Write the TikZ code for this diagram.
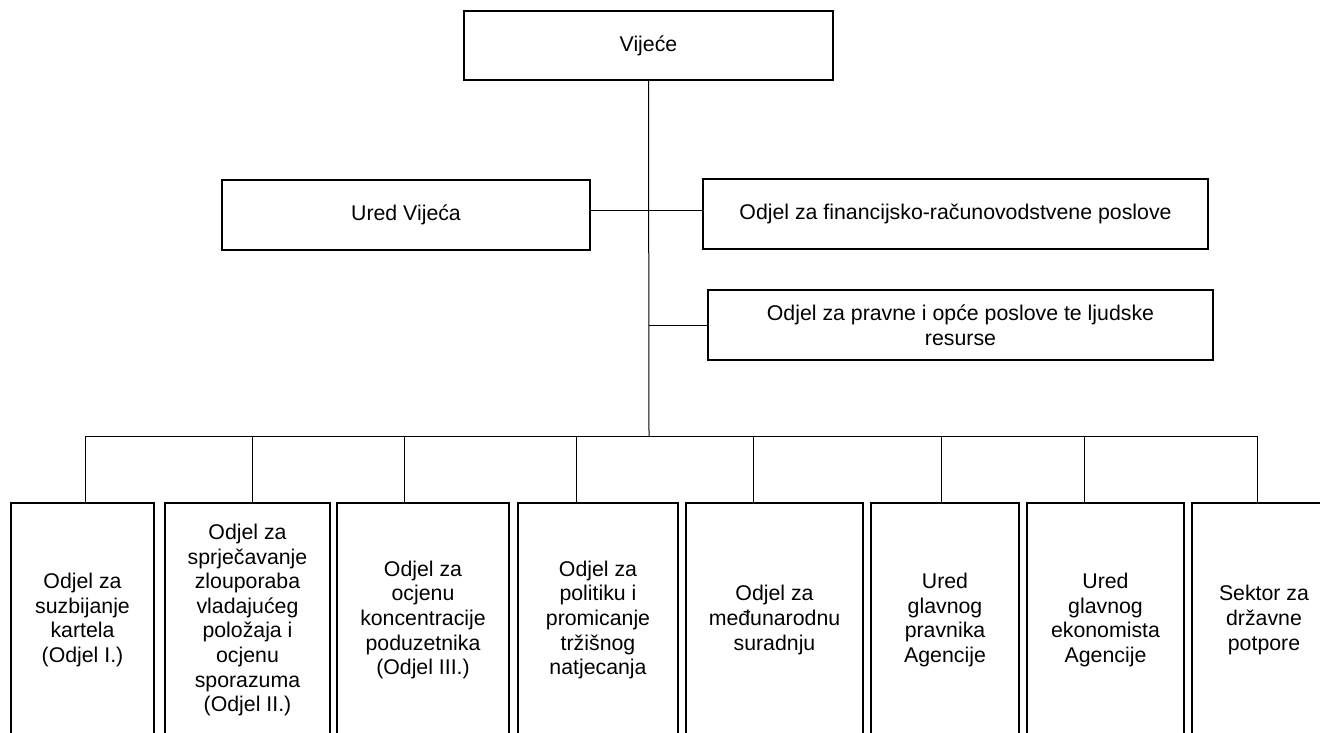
\documentclass[tikz,border=0pt]{standalone}
\usepackage{fontspec}
\setmainfont{Liberation Sans}

\tikzset{
    unit/.style={draw, line width=1.2pt, align=center, inner sep=0pt,
        font=\fontsize{21.3}{24.6}\selectfont},
    link/.style={line width=1pt}
}

\begin{document}
\begin{tikzpicture}[x=1pt, y=-1pt]
    \clip (0,0) rectangle (1320,733);

    % Top of the chart
    \node[unit, minimum width=369, minimum height=69] (vijece) at (648.5,45.5) {Vijeće};
    \node[unit, minimum width=368, minimum height=70] (ured) at (406,215) {Ured Vijeća};
    \node[unit, minimum width=505, minimum height=70] (fin) at (955.5,214) {Odjel za financijsko-računovodstvene poslove};
    \node[unit, minimum width=505, minimum height=70] (pravne) at (960.5,325) {Odjel za pravne i opće poslove te ljudske\\resurse};

    % Departments along the bottom
    \node[unit, minimum width=143, minimum height=234] (k1) at (82.5,620) {Odjel za\\suzbijanje\\kartela\\(Odjel I.)};
    \node[unit, minimum width=165, minimum height=234] (k2) at (247.5,620) {Odjel za\\sprječavanje\\zlouporaba\\vladajućeg\\položaja i\\ocjenu\\sporazuma\\(Odjel II.)};
    \node[unit, minimum width=172, minimum height=234] (k3) at (423,620) {Odjel za\\ocjenu\\koncentracije\\poduzetnika\\(Odjel III.)};
    \node[unit, minimum width=160, minimum height=234] (k4) at (598,620) {Odjel za\\politiku i\\promicanje\\tržišnog\\natjecanja};
    \node[unit, minimum width=177, minimum height=234] (k5) at (774.5,620) {Odjel za\\međunarodnu\\suradnju};
    \node[unit, minimum width=148, minimum height=234] (k6) at (945,620) {Ured\\glavnog\\pravnika\\Agencije};
    \node[unit, minimum width=157, minimum height=234] (k7) at (1105.5,620) {Ured\\glavnog\\ekonomista\\Agencije};
    \node[unit, minimum width=144, minimum height=234] (k8) at (1264,620) {Sektor za\\državne\\potpore};

    % Points on the bus line
    \coordinate (hub) at (649,436);
    \coordinate (d1) at (85,436);
    \coordinate (d2) at (252,436);
    \coordinate (d3) at (404,436);
    \coordinate (d4) at (576,436);
    \coordinate (d5) at (753,436);
    \coordinate (d6) at (941,436);
    \coordinate (d7) at (1084,436);
    \coordinate (d8) at (1257,436);

    % Lines
    \draw[link] (vijece.south) -- (hub);
    \draw[link] ([yshift=5pt]ured.east) -- ([yshift=5pt]ured.east -| fin.west);
    \draw[link] (pravne.west) -- (pravne.west -| hub);
    \draw[link] (d1) -- (d8);

    \draw[link] (d1) -- (d1 |- k1.north);
    \draw[link] (d2) -- (d2 |- k2.north);
    \draw[link] (d3) -- (d3 |- k3.north);
    \draw[link] (d4) -- (d4 |- k4.north);
    \draw[link] (d5) -- (d5 |- k5.north);
    \draw[link] (d6) -- (d6 |- k6.north);
    \draw[link] (d7) -- (d7 |- k7.north);
    \draw[link] (d8) -- (d8 |- k8.north);
\end{tikzpicture}
\end{document}
